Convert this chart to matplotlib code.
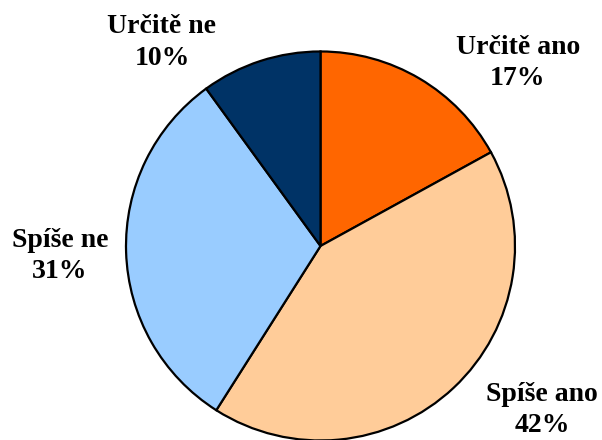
import matplotlib
matplotlib.use("Agg")
import matplotlib.pyplot as plt

categories = ["Určitě ano", "Spíše ano", "Spíše ne", "Určitě ne"]
values = [17, 42, 31, 10]
colors = ["#FF6600", "#FFCC99", "#99CCFF", "#003366"]

# label anchor positions (data coords, pie radius = 1)
label_pos = [(1.015, 0.941), (1.139, -0.843), (-1.339, -0.051), (-0.815, 1.046)]

fig = plt.figure(figsize=(6.02, 4.40), dpi=100)
ax = fig.add_axes([0.2093, -0.0011, 0.6462, 0.8841])
ax.pie(values, colors=colors, startangle=90, counterclock=False, radius=1,
       wedgeprops=dict(edgecolor="black", linewidth=1.6))
ax.set_xlim(-1, 1)
ax.set_ylim(-1, 1)
ax.set_aspect("equal")
ax.axis("off")

for cat, val, (x, y) in zip(categories, values, label_pos):
    ax.text(x, y, f"{cat}\n{val}%", ha="center", va="center", fontsize=20,
            fontweight="bold", family=["Liberation Serif", "DejaVu Serif"],
            linespacing=1.35, clip_on=False)

fig.savefig("out.png", dpi=100)
